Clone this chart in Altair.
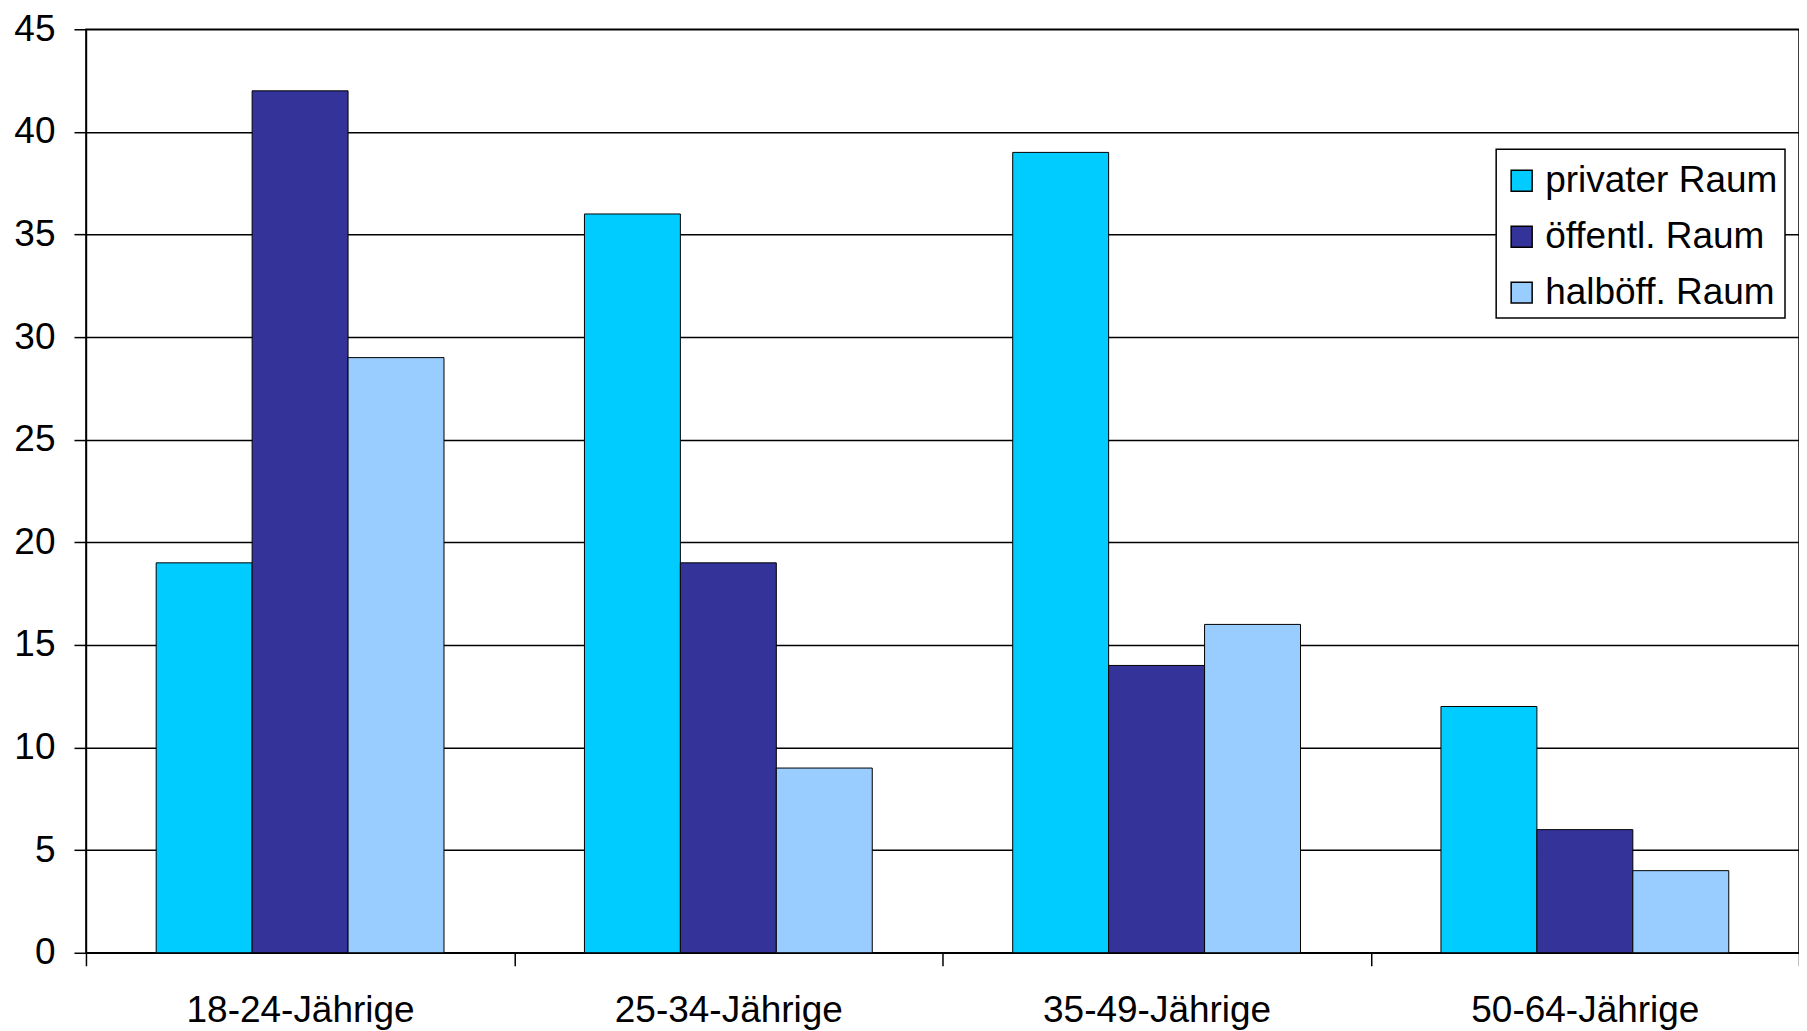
import altair as alt
import pandas as pd

ages = ["18-24-Jährige", "25-34-Jährige", "35-49-Jährige", "50-64-Jährige"]
series = ["privater Raum", "öffentl. Raum", "halböff. Raum"]
privat = [19, 36, 39, 12]
oeffentl = [42, 19, 14, 6]
halboeff = [29, 9, 16, 4]
colors = ["#00CCFF", "#333399", "#99CCFF"]
y_ticks = [0, 5, 10, 15, 20, 25, 30, 35, 40, 45]

rows = []
for vals, s in zip([privat, oeffentl, halboeff], series):
    for a, v in zip(ages, vals):
        rows.append({"age": a, "series": s, "value": v})
df = pd.DataFrame(rows)

FONT = "Liberation Sans"

chart = alt.Chart(df).mark_bar(stroke="black", strokeWidth=1).encode(
    x=alt.X("age:N", sort=ages,
            scale=alt.Scale(paddingInner=0, paddingOuter=0),
            axis=alt.Axis(title=None, labelAngle=0, tickBand="extent",
                          tickSize=13, tickWidth=1.5, tickColor="black",
                          domainColor="black", domainWidth=1.5,
                          labelFont=FONT, labelFontSize=37, labelColor="black",
                          labelLimit=0,
                          labelBaseline="alphabetic", labelPadding=56, grid=False)),
    xOffset=alt.XOffset("series:N", sort=series,
                        scale=alt.Scale(paddingInner=0, paddingOuter=0.732)),
    y=alt.Y("value:Q", scale=alt.Scale(domain=[0, 45], nice=False),
            axis=alt.Axis(title=None, values=y_ticks, tickSize=12, tickWidth=1.5,
                          tickColor="black", domainColor="black", domainWidth=1.5,
                          grid=True, gridColor="black", gridWidth=1.5,
                          labelFont=FONT, labelFontSize=37, labelColor="black",
                          labelPadding=19)),
    color=alt.Color("series:N", sort=series,
                    scale=alt.Scale(domain=series, range=colors),
                    legend=alt.Legend(title=" ", titleFontSize=1, titlePadding=5,
                                      orient="none", legendX=1411, legendY=120,
                                      padding=7, strokeColor="black", fillColor="white",
                                      labelFont=FONT, labelFontSize=37, labelColor="black",
                                      labelLimit=0,
                                      symbolType="square", symbolSize=441,
                                      symbolStrokeColor="black", symbolStrokeWidth=1.5,
                                      labelOffset=5, rowPadding=18)),
).properties(
    width=1714, height=924,
    autosize=alt.AutoSizeParams(type="none"),
    padding={"left": 78, "top": 21, "right": 0, "bottom": 78},
).configure_view(stroke="black", strokeWidth=1.5
).configure_legend(strokeWidth=1.5)

chart.save("out.html", embed_options={"renderer": "svg", "actions": False})
